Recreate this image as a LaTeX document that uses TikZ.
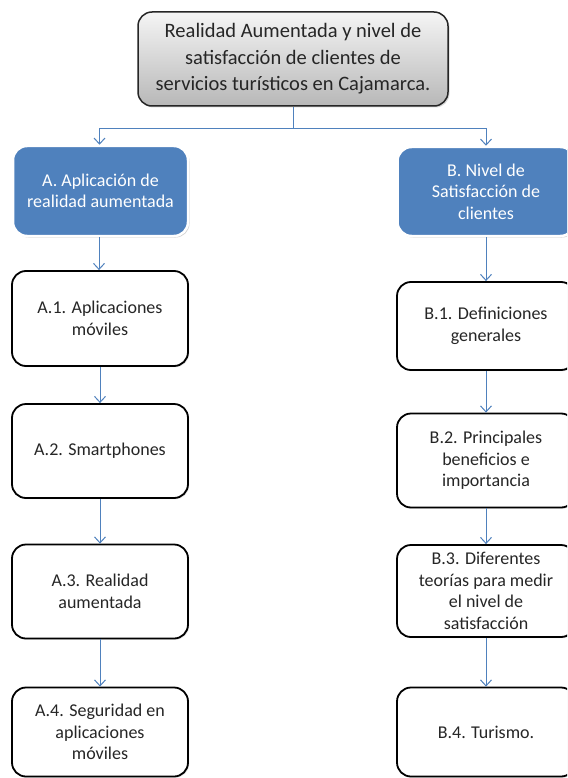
\documentclass[tikz,border=0pt]{standalone}
\usepackage{fontspec}
\setmainfont{Carlito}
\usetikzlibrary{arrows.meta,shadows}
\definecolor{accblue}{RGB}{79,129,189}
\definecolor{txt}{RGB}{38,38,38}
\begin{document}
\begin{tikzpicture}[x=1pt,y=-1pt,
  base/.style={rounded corners=14pt, align=center, inner sep=0pt, text=txt,
     font=\fontsize{18}{21.5}\selectfont},
  whitebox/.style={base, draw=black, line width=1.8pt, fill=white,
     drop shadow={shadow xshift=1.2pt, shadow yshift=-1.2pt, opacity=0.25}},
  bluebox/.style={base, draw=white, line width=2.5pt, fill=accblue, text=white,
     drop shadow={shadow xshift=1.5pt, shadow yshift=-1.5pt, opacity=0.35}},
  topbox/.style={base, draw=black!85, line width=1.5pt,
     top color=white!96!black, bottom color=black!28,
     font=\fontsize{20.5}{26.5}\selectfont,
     drop shadow={shadow xshift=1.5pt, shadow yshift=-1.5pt, opacity=0.3}},
  conn/.style={draw=accblue, line width=1pt},
  arr/.style={conn, -{Straight Barb[length=6pt,width=11pt]}}
]
\useasboundingbox (0,0) rectangle (567,778);
\clip (0,0) rectangle (567,778);
\fill[white] (0,0) rectangle (567,778);

\node[topbox, minimum width=310pt, minimum height=94pt] (top) at (293,59)
  {Realidad Aumentada y nivel de\\satisfacción de clientes de\\servicios turísticos en Cajamarca.};

\node[bluebox, minimum width=175pt, minimum height=90pt] (A) at (100.5,191)
  {A. Aplicación de\\realidad aumentada};
\node[bluebox, minimum width=177pt, minimum height=89pt] (B) at (486,191.5)
  {B. Nivel de\\Satisfacción de\\clientes};

\node[whitebox, minimum width=176pt, minimum height=95pt] (A1) at (100,318.5)
  {A.1. Aplicaciones\\móviles};
\node[whitebox, minimum width=176pt, minimum height=94pt] (A2) at (100,451)
  {A.2. Smartphones};
\node[whitebox, minimum width=176pt, minimum height=94pt] (A3) at (100,591.5)
  {A.3. Realidad\\aumentada};
\node[whitebox, minimum width=176pt, minimum height=89pt] (A4) at (100,732)
  {A.4. Seguridad en\\aplicaciones\\móviles};

\node[whitebox, minimum width=178pt, minimum height=88pt] (B1) at (486,326)
  {B.1. Definiciones\\generales};
\node[whitebox, minimum width=178pt, minimum height=94pt] (B2) at (486,460.5)
  {B.2. Principales\\beneficios e\\importancia};
\node[whitebox, minimum width=178pt, minimum height=92pt] (B3) at (486,591)
  {B.3. Diferentes\\teorías para medir\\el nivel de\\satisfacción};
\node[whitebox, minimum width=178pt, minimum height=89pt] (B4) at (486,732)
  {B.4. Turismo.};

\coordinate (j) at (293,129);
\draw[conn] (top.south) -- (j);
\draw[arr] (j) -| ([xshift=-1pt]A.north);
\draw[arr] (j) -| (B.north);

\draw[arr] ([xshift=-1.5pt]A.south) -- ([xshift=-1pt]A1.north);
\draw[arr] (A1.south) -- (A2.north);
\draw[arr] (A2.south) -- (A3.north);
\draw[arr] (A3.south) -- (A4.north);

\draw[arr] (B.south) -- (B1.north);
\draw[arr] (B1.south) -- (B2.north);
\draw[arr] (B2.south) -- (B3.north);
\draw[arr] (B3.south) -- (B4.north);
\end{tikzpicture}
\end{document}
